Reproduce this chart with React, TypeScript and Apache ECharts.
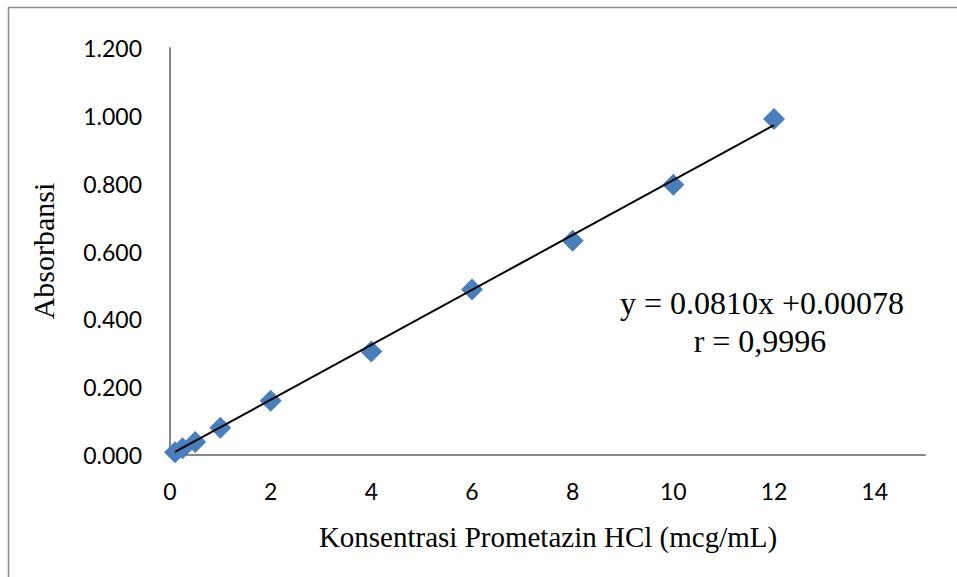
import React, { useEffect, useRef } from "react";
import * as echarts from "echarts";

const concentrations = [0.1, 0.25, 0.5, 1, 2, 4, 6, 8, 10, 12];
const absorbances = [0.008, 0.02, 0.038, 0.08, 0.16, 0.305, 0.488, 0.632, 0.797, 0.991];
const trendX = [0.1, 12];
const trendY = [0.0089, 0.9728];
const equationText = "y = 0.0810x +0.00078";
const rText = "r = 0,9996";
const xTitle = "Konsentrasi Prometazin HCl (mcg/mL)";
const yTitle = "Absorbansi";

export default function App() {
  const ref = useRef<HTMLDivElement>(null);
  useEffect(() => {
    if (!ref.current) return;
    const chart = echarts.init(ref.current, null, { renderer: "svg" });
    const labelFont = "Lato, 'Open Sans', sans-serif";
    const serif = "'Liberation Serif', 'DejaVu Serif', serif";
    chart.setOption({
      animation: false,
      backgroundColor: "#ffffff",
      grid: { left: 170, top: 48, right: 32, bottom: 122, containLabel: false },
      xAxis: {
        type: "value",
        min: 0,
        max: 15,
        interval: 2,
        axisLine: { show: true, lineStyle: { color: "#888888", width: 2 } },
        axisTick: { show: false },
        splitLine: { show: false },
        axisLabel: {
          showMaxLabel: false,
          color: "#000",
          fontFamily: labelFont,
          fontSize: 23,
          margin: 24,
        },
      },
      yAxis: {
        type: "value",
        min: 0,
        max: 1.2,
        interval: 0.2,
        axisLine: { show: true, lineStyle: { color: "#888888", width: 2 } },
        axisTick: { show: false },
        splitLine: { show: false },
        axisLabel: {
          color: "#000",
          fontFamily: labelFont,
          fontSize: 23,
          margin: 28,
          formatter: (v: number) => v.toFixed(3),
        },
      },
      graphic: [
        {
          type: "rect",
          shape: { x: 8.5, y: 7.5, width: 1000, height: 1000 },
          style: { fill: "none", stroke: "#8c8c8c", lineWidth: 1.5 },
          silent: true,
          z: -1,
        },
        {
          type: "text",
          x: 548,
          y: 537,
          style: {
            text: xTitle,
            font: `29px ${serif}`,
            fill: "#000",
            align: "center",
            verticalAlign: "middle",
          },
        },
        {
          type: "text",
          x: 43,
          y: 251,
          rotation: Math.PI / 2,
          style: {
            text: yTitle,
            font: `30px ${serif}`,
            fill: "#000",
            align: "center",
            verticalAlign: "middle",
          },
        },
        {
          type: "text",
          x: 762,
          y: 303,
          style: {
            text: equationText,
            font: `32px ${serif}`,
            fill: "#000",
            align: "center",
            verticalAlign: "middle",
          },
        },
        {
          type: "text",
          x: 760,
          y: 341,
          style: {
            text: rText,
            font: `32px ${serif}`,
            fill: "#000",
            align: "center",
            verticalAlign: "middle",
          },
        },
      ],
      series: [
        {
          type: "line",
          data: trendX.map((x, i) => [x, trendY[i]]),
          showSymbol: false,
          lineStyle: { color: "#000", width: 2 },
          z: 3,
        },
        {
          type: "scatter",
          data: concentrations.map((x, i) => [x, absorbances[i]]),
          symbol: "diamond",
          symbolSize: [22, 22],
          itemStyle: { color: "#4a7ebb", opacity: 1 },
          z: 2,
        },
      ],
    });
    return () => chart.dispose();
  }, []);
  return <div ref={ref} style={{ width: 957, height: 577, position: "absolute", left: 0, top: 0 }} />;
}
